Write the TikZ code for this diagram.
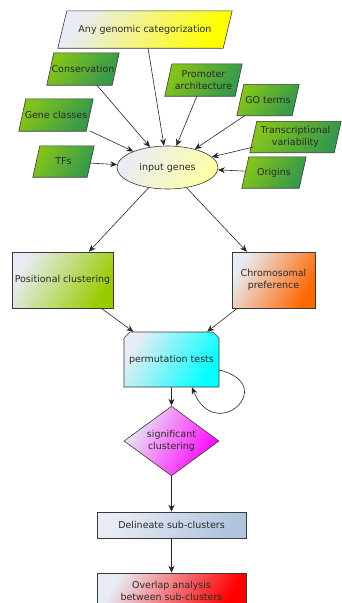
\documentclass[tikz,border=0pt]{standalone}
\usepackage{fontspec}
\setmainfont{DejaVu Sans}
\usetikzlibrary{shapes.geometric,shapes.misc,arrows.meta,backgrounds}
\definecolor{lite}{HTML}{E8ECF4}
\definecolor{gLeft}{HTML}{84C41A}
\definecolor{gRight}{HTML}{35984C}
\definecolor{edgec}{HTML}{3A3A3A}
\definecolor{txt}{HTML}{2A2A2A}
\tikzset{
  every node/.style={font=\fontsize{9.5}{11.5}\selectfont, text=txt, align=center, inner sep=1pt},
  grad/.style 2 args={left color=#1, right color=#2, shading angle=60},
  paratext/.style={rectangle, draw=none, inner sep=0pt},
  parashape/.style={draw=edgec, line width=0.6pt},
  boxc/.style={rectangle, draw=edgec, line width=0.6pt},
  arr/.style={draw=black!85, line width=0.6pt, -{Stealth[length=7pt,width=6pt]}}
}
\begin{document}
\begin{tikzpicture}[x=1pt,y=-1pt]
\useasboundingbox (0,0) rectangle (342,603);
% top nodes (text boxes; parallelogram outlines drawn behind)
\node[paratext, minimum width=165pt, minimum height=37pt] (any) at (145,29.5) {Any genomic categorization};
\node[paratext, minimum width=65pt, minimum height=32pt] (cons) at (83,69) {Conservation};
\node[paratext, minimum width=70pt, minimum height=32pt] (prom) at (203.5,80) {Promoter\\architecture};
\node[paratext, minimum width=55pt, minimum height=31pt] (go) at (268,100) {GO terms};
\node[paratext, minimum width=67pt, minimum height=32pt] (gene) at (56,115) {Gene classes};
\node[paratext, minimum width=84pt, minimum height=31pt] (trans) at (295.5,137) {Transcriptional\\variability};
\node[paratext, minimum width=54pt, minimum height=31pt] (tfs) at (63.5,161.5) {TFs};
\node[paratext, minimum width=57pt, minimum height=31pt] (orig) at (274,172.5) {Origins};
\begin{pgfonlayer}{background}
\foreach \n/\s/\l/\r in {any/9/lite/yellow, cons/7/gLeft/gRight, prom/7/gLeft/gRight, go/7/gLeft/gRight, gene/7/gLeft/gRight, trans/7/gLeft/gRight, tfs/7/gLeft/gRight, orig/7/gLeft/gRight}
  \shade[parashape, grad={\l}{\r}] ([xshift=\s*0.5pt]\n.north west) -- ([xshift=\s*0.5pt]\n.north east) -- ([xshift=-\s*0.5pt]\n.south east) -- ([xshift=-\s*0.5pt]\n.south west) -- cycle;
\end{pgfonlayer}
\node[ellipse, draw=edgec, line width=0.6pt, grad={lite}{yellow!35}, minimum width=101pt, minimum height=43pt] (input) at (167.5,167.5) {input genes};
% middle
\node[boxc, grad={lite}{ {rgb,255:red,153;green,204;blue,0} }, minimum width=101pt, minimum height=56pt] (pos) at (62.5,280) {Positional clustering};
\node[boxc, grad={lite}{ {rgb,255:red,255;green,102;blue,0} }, minimum width=83pt, minimum height=56pt] (chrom) at (273.5,280) {Chromosomal\\preference};
\node[chamfered rectangle, chamfered rectangle corners={north west,north east}, chamfered rectangle xsep=3pt, chamfered rectangle ysep=3pt, draw=edgec, line width=0.6pt, grad={lite}{cyan}, minimum width=95pt, minimum height=55pt] (perm) at (171.5,359.5) {permutation tests};
\node[diamond, draw=edgec, line width=0.6pt, grad={lite}{magenta}, minimum width=95pt, minimum height=52pt, inner sep=0pt] (sig) at (171.5,441) {significant\\clustering};
\node[boxc, grad={lite}{ {rgb,255:red,176;green,196;blue,222} }, minimum width=149pt, minimum height=26pt] (delin) at (171.5,525) {Delineate sub-clusters};
\node[boxc, grad={lite}{red}, minimum width=149pt, minimum height=36pt] (over) at (171.5,591) {Overlap analysis\\between sub-clusters};
% edges
\foreach \s in {any,cons,prom,go,gene,trans,tfs,orig} \draw[arr] (\s) -- (input);
\draw[arr] (input) -- (pos);
\draw[arr] (input) -- (chrom);
\draw[arr] (pos) -- (perm);
\draw[arr] (chrom) -- (perm);
\draw[arr] (perm) -- (sig);
\draw[arr] (sig) -- (delin);
\draw[arr] (delin) -- (over);
\draw[arr] ([yshift=-10.5pt]perm.east) .. controls (280,385) and (215,445) .. ([xshift=20.5pt]perm.south);
\end{tikzpicture}
\end{document}
